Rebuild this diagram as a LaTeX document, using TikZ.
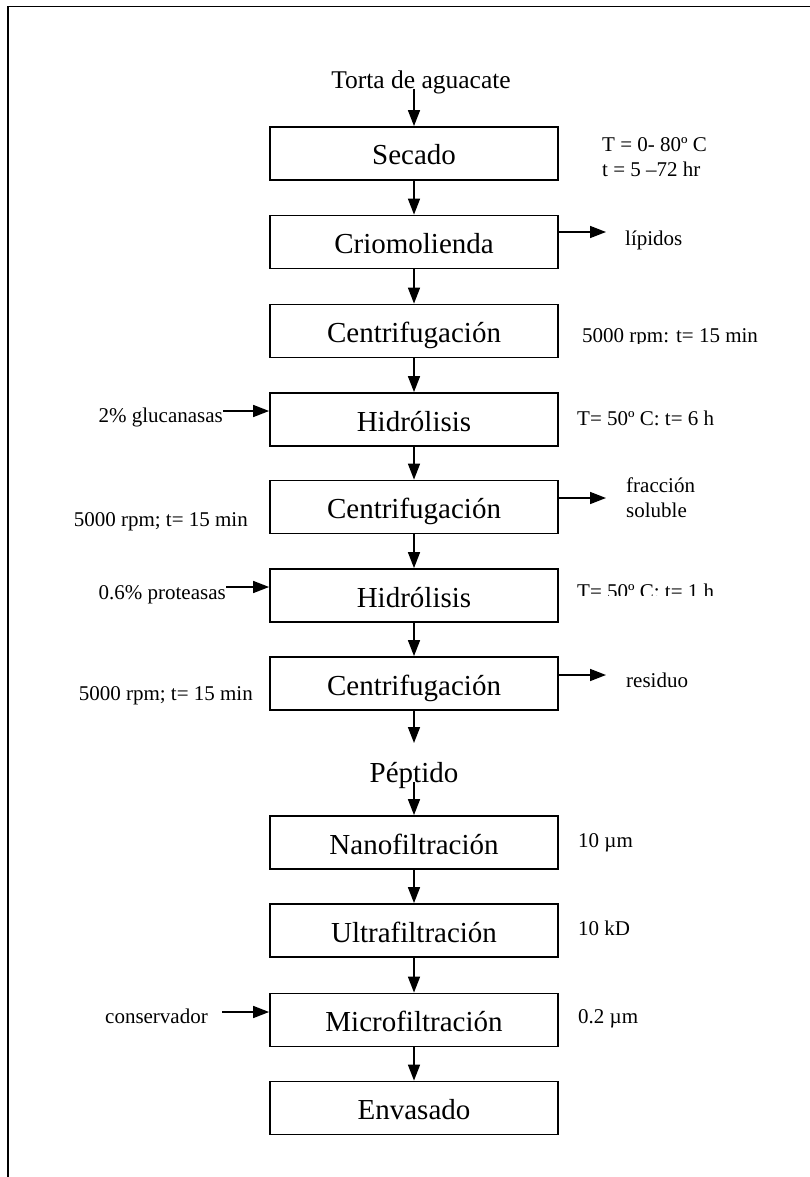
\documentclass[tikz,border=0pt]{standalone}
\usepackage{fontspec}
\setmainfont{Liberation Serif}
\usetikzlibrary{arrows.meta}
\begin{document}
\begin{tikzpicture}[x=1pt,y=-1pt,
 proc/.style={draw, line width=1.8pt, minimum width=288pt, minimum height=53pt, inner sep=0pt, text height=23pt, text depth=0pt, font=\fontsize{29}{33}\selectfont},
 lbl/.style={font=\fontsize{21}{25}\selectfont, inner sep=0pt},
 big/.style={font=\fontsize{29}{33}\selectfont, inner sep=0pt},
 flow/.style={-{Triangle[length=16pt,width=12pt]}, line width=1.6pt},
 frameline/.style={line width=1.8pt}]
\useasboundingbox (0,0) rectangle (810,1177);
\draw[frameline] (8,1177) -- (8,6.5) -- (810,6.5);

\node[font=\fontsize{25.5}{29}\selectfont, inner sep=0pt, anchor=base] (tor) at (421,89) {Torta de aguacate};
\node[proc] (sec) at (414,153.5) {Secado};
\node[proc] (cri) at (414,242) {Criomolienda};
\node[proc] (ce1) at (414,331) {Centrifugación};
\node[proc] (hi1) at (414,419.5) {Hidrólisis};
\node[proc] (ce2) at (414,507) {Centrifugación};
\node[proc] (hi2) at (414,595.5) {Hidrólisis};
\node[proc] (ce3) at (414,683.5) {Centrifugación};
\node[big, anchor=base] (pep) at (414,782) {Péptido};
\node[proc] (nan) at (414,842.5) {Nanofiltración};
\node[proc] (ult) at (414,930.5) {Ultrafiltración};
\node[proc] (mic) at (414,1020) {Microfiltración};
\node[proc] (env) at (414,1108) {Envasado};

\coordinate (pepin) at (414,743);
\draw[flow] (tor.base -| sec.north) -- (sec.north);
\draw[flow] (sec.south) -- (cri.north);
\draw[flow] (cri.south) -- (ce1.north);
\draw[flow] (ce1.south) -- (hi1.north);
\draw[flow] (hi1.south) -- (ce2.north);
\draw[flow] (ce2.south) -- (hi2.north);
\draw[flow] (hi2.south) -- (ce3.north);
\draw[flow] (ce3.south) -- (pepin);
\draw[flow] (pep.base) -- (nan.north);
\draw[flow] (nan.south) -- (ult.north);
\draw[flow] (ult.south) -- (mic.north);
\draw[flow] (mic.south) -- (env.north);

% right labels
\node[lbl, anchor=base west] (sT) at (602,152) {T = 0- 80º C};
\node[lbl, anchor=base west] (st) at (602,177) {t = 5 –72 hr};
\coordinate (lipo) at (606,232);
\draw[flow] ([yshift=10pt]cri.east) -- (lipo);
\node[lbl, anchor=base west] (lip) at (625,245) {lípidos};
\begin{scope}
\clip (570,300) rectangle (800,343);
\node[lbl, anchor=base west] (c1r) at (582,342) {5000 rpm: t= 15 min};
\end{scope}
\node[lbl, anchor=base west] (h1r) at (577,425) {T= 50º C: t= 6 h};
\coordinate (fraco) at (606,498);
\draw[flow] ([yshift=9pt]ce2.east) -- (fraco);
\node[lbl, anchor=base west] (fr1) at (626,492) {fracción};
\node[lbl, anchor=base west] (fr2) at (626,517) {soluble};
\begin{scope}
\clip (570,560) rectangle (800,595);
\node[lbl, anchor=base west] (h2r) at (577,598) {T= 50º C: t= 1 h};
\end{scope}
\coordinate (reso) at (606,675);
\draw[flow] ([yshift=8.5pt]ce3.east) -- (reso);
\node[lbl, anchor=base west] (res) at (626,687) {residuo};
\node[lbl, anchor=base west] (n1) at (578,847) {10 µm};
\node[lbl, anchor=base west] (u1) at (578,935) {10 kD};
\node[lbl, anchor=base west] (m1) at (578,1023) {0.2 µm};

% left labels
\node[lbl, anchor=base east] (glu) at (223,422) {2\% glucanasas};
\coordinate (gluo) at (223,411);
\draw[flow] (gluo) -- ([yshift=8.5pt]hi1.west);
\node[lbl, anchor=base east] (c2l) at (248,526) {5000 rpm; t= 15 min};
\node[lbl, anchor=base east] (pro) at (226,599) {0.6\% proteasas};
\coordinate (proo) at (226,587);
\draw[flow] (proo) -- ([yshift=8.5pt]hi2.west);
\node[lbl, anchor=base east] (c3l) at (253,700) {5000 rpm; t= 15 min};
\node[lbl, anchor=base east] (con) at (208,1023) {conservador};
\coordinate (cono) at (222,1012);
\draw[flow] (cono) -- ([yshift=8pt]mic.west);
\end{tikzpicture}
\end{document}
